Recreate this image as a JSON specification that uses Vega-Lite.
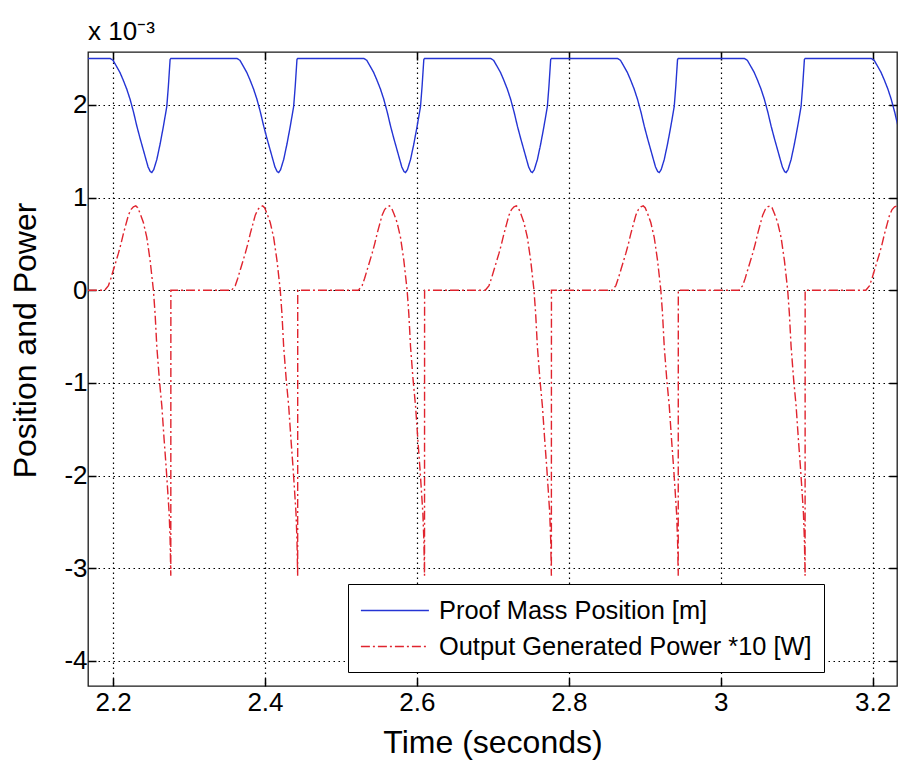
{
"$schema": "https://vega.github.io/schema/vega-lite/v6.json",
"width": 809, "height": 634,
"autosize": {"type": "none"},
"padding": {"left": 88, "top": 52, "right": 2, "bottom": 76},
"background": "white",
"title": {"text": "x 10⁻³", "anchor": "start", "frame": "group", "fontSize": 26, "fontWeight": "normal", "font": "Liberation Sans", "color": "#000", "offset": 6},
"config": {
  "view": {"stroke": "#1a1a1a", "strokeWidth": 1.3},
  "font": "Liberation Sans"
},
"data": {"values": [
{"t":2.167,"v":2.5,"s":"Proof Mass Position [m]"},
{"t":2.1961,"v":2.50,"s":"Proof Mass Position [m]"},{"t":2.2000,"v":2.48,"s":"Proof Mass Position [m]"},{"t":2.2049,"v":2.41,"s":"Proof Mass Position [m]"},{"t":2.2090,"v":2.35,"s":"Proof Mass Position [m]"},{"t":2.2132,"v":2.27,"s":"Proof Mass Position [m]"},{"t":2.2180,"v":2.17,"s":"Proof Mass Position [m]"},{"t":2.2224,"v":2.06,"s":"Proof Mass Position [m]"},{"t":2.2270,"v":1.92,"s":"Proof Mass Position [m]"},{"t":2.2313,"v":1.77,"s":"Proof Mass Position [m]"},{"t":2.2355,"v":1.64,"s":"Proof Mass Position [m]"},{"t":2.2396,"v":1.52,"s":"Proof Mass Position [m]"},{"t":2.2430,"v":1.42,"s":"Proof Mass Position [m]"},{"t":2.2461,"v":1.33,"s":"Proof Mass Position [m]"},{"t":2.2490,"v":1.28,"s":"Proof Mass Position [m]"},{"t":2.2510,"v":1.27,"s":"Proof Mass Position [m]"},{"t":2.2535,"v":1.30,"s":"Proof Mass Position [m]"},{"t":2.2576,"v":1.41,"s":"Proof Mass Position [m]"},{"t":2.2620,"v":1.58,"s":"Proof Mass Position [m]"},{"t":2.2663,"v":1.77,"s":"Proof Mass Position [m]"},{"t":2.2707,"v":1.98,"s":"Proof Mass Position [m]"},{"t":2.2728,"v":2.20,"s":"Proof Mass Position [m]"},{"t":2.2751,"v":2.49,"s":"Proof Mass Position [m]"},{"t":2.2761,"v":2.50,"s":"Proof Mass Position [m]"},
{"t":2.3631,"v":2.50,"s":"Proof Mass Position [m]"},{"t":2.3670,"v":2.48,"s":"Proof Mass Position [m]"},{"t":2.3719,"v":2.41,"s":"Proof Mass Position [m]"},{"t":2.3760,"v":2.35,"s":"Proof Mass Position [m]"},{"t":2.3802,"v":2.27,"s":"Proof Mass Position [m]"},{"t":2.3850,"v":2.17,"s":"Proof Mass Position [m]"},{"t":2.3894,"v":2.06,"s":"Proof Mass Position [m]"},{"t":2.3940,"v":1.92,"s":"Proof Mass Position [m]"},{"t":2.3983,"v":1.77,"s":"Proof Mass Position [m]"},{"t":2.4025,"v":1.64,"s":"Proof Mass Position [m]"},{"t":2.4066,"v":1.52,"s":"Proof Mass Position [m]"},{"t":2.4100,"v":1.42,"s":"Proof Mass Position [m]"},{"t":2.4131,"v":1.33,"s":"Proof Mass Position [m]"},{"t":2.4160,"v":1.28,"s":"Proof Mass Position [m]"},{"t":2.4180,"v":1.27,"s":"Proof Mass Position [m]"},{"t":2.4205,"v":1.30,"s":"Proof Mass Position [m]"},{"t":2.4246,"v":1.41,"s":"Proof Mass Position [m]"},{"t":2.4290,"v":1.58,"s":"Proof Mass Position [m]"},{"t":2.4333,"v":1.77,"s":"Proof Mass Position [m]"},{"t":2.4377,"v":1.98,"s":"Proof Mass Position [m]"},{"t":2.4398,"v":2.20,"s":"Proof Mass Position [m]"},{"t":2.4421,"v":2.49,"s":"Proof Mass Position [m]"},{"t":2.4431,"v":2.50,"s":"Proof Mass Position [m]"},
{"t":2.5301,"v":2.50,"s":"Proof Mass Position [m]"},{"t":2.5340,"v":2.48,"s":"Proof Mass Position [m]"},{"t":2.5389,"v":2.41,"s":"Proof Mass Position [m]"},{"t":2.5430,"v":2.35,"s":"Proof Mass Position [m]"},{"t":2.5472,"v":2.27,"s":"Proof Mass Position [m]"},{"t":2.5520,"v":2.17,"s":"Proof Mass Position [m]"},{"t":2.5564,"v":2.06,"s":"Proof Mass Position [m]"},{"t":2.5610,"v":1.92,"s":"Proof Mass Position [m]"},{"t":2.5653,"v":1.77,"s":"Proof Mass Position [m]"},{"t":2.5695,"v":1.64,"s":"Proof Mass Position [m]"},{"t":2.5736,"v":1.52,"s":"Proof Mass Position [m]"},{"t":2.5770,"v":1.42,"s":"Proof Mass Position [m]"},{"t":2.5801,"v":1.33,"s":"Proof Mass Position [m]"},{"t":2.5830,"v":1.28,"s":"Proof Mass Position [m]"},{"t":2.5850,"v":1.27,"s":"Proof Mass Position [m]"},{"t":2.5875,"v":1.30,"s":"Proof Mass Position [m]"},{"t":2.5916,"v":1.41,"s":"Proof Mass Position [m]"},{"t":2.5960,"v":1.58,"s":"Proof Mass Position [m]"},{"t":2.6003,"v":1.77,"s":"Proof Mass Position [m]"},{"t":2.6047,"v":1.98,"s":"Proof Mass Position [m]"},{"t":2.6068,"v":2.20,"s":"Proof Mass Position [m]"},{"t":2.6091,"v":2.49,"s":"Proof Mass Position [m]"},{"t":2.6101,"v":2.50,"s":"Proof Mass Position [m]"},
{"t":2.6971,"v":2.50,"s":"Proof Mass Position [m]"},{"t":2.7010,"v":2.48,"s":"Proof Mass Position [m]"},{"t":2.7059,"v":2.41,"s":"Proof Mass Position [m]"},{"t":2.7100,"v":2.35,"s":"Proof Mass Position [m]"},{"t":2.7142,"v":2.27,"s":"Proof Mass Position [m]"},{"t":2.7190,"v":2.17,"s":"Proof Mass Position [m]"},{"t":2.7234,"v":2.06,"s":"Proof Mass Position [m]"},{"t":2.7280,"v":1.92,"s":"Proof Mass Position [m]"},{"t":2.7323,"v":1.77,"s":"Proof Mass Position [m]"},{"t":2.7365,"v":1.64,"s":"Proof Mass Position [m]"},{"t":2.7406,"v":1.52,"s":"Proof Mass Position [m]"},{"t":2.7440,"v":1.42,"s":"Proof Mass Position [m]"},{"t":2.7471,"v":1.33,"s":"Proof Mass Position [m]"},{"t":2.7500,"v":1.28,"s":"Proof Mass Position [m]"},{"t":2.7520,"v":1.27,"s":"Proof Mass Position [m]"},{"t":2.7545,"v":1.30,"s":"Proof Mass Position [m]"},{"t":2.7586,"v":1.41,"s":"Proof Mass Position [m]"},{"t":2.7630,"v":1.58,"s":"Proof Mass Position [m]"},{"t":2.7673,"v":1.77,"s":"Proof Mass Position [m]"},{"t":2.7717,"v":1.98,"s":"Proof Mass Position [m]"},{"t":2.7738,"v":2.20,"s":"Proof Mass Position [m]"},{"t":2.7761,"v":2.49,"s":"Proof Mass Position [m]"},{"t":2.7771,"v":2.50,"s":"Proof Mass Position [m]"},
{"t":2.8641,"v":2.50,"s":"Proof Mass Position [m]"},{"t":2.8680,"v":2.48,"s":"Proof Mass Position [m]"},{"t":2.8729,"v":2.41,"s":"Proof Mass Position [m]"},{"t":2.8770,"v":2.35,"s":"Proof Mass Position [m]"},{"t":2.8812,"v":2.27,"s":"Proof Mass Position [m]"},{"t":2.8860,"v":2.17,"s":"Proof Mass Position [m]"},{"t":2.8904,"v":2.06,"s":"Proof Mass Position [m]"},{"t":2.8950,"v":1.92,"s":"Proof Mass Position [m]"},{"t":2.8993,"v":1.77,"s":"Proof Mass Position [m]"},{"t":2.9035,"v":1.64,"s":"Proof Mass Position [m]"},{"t":2.9076,"v":1.52,"s":"Proof Mass Position [m]"},{"t":2.9110,"v":1.42,"s":"Proof Mass Position [m]"},{"t":2.9141,"v":1.33,"s":"Proof Mass Position [m]"},{"t":2.9170,"v":1.28,"s":"Proof Mass Position [m]"},{"t":2.9190,"v":1.27,"s":"Proof Mass Position [m]"},{"t":2.9215,"v":1.30,"s":"Proof Mass Position [m]"},{"t":2.9256,"v":1.41,"s":"Proof Mass Position [m]"},{"t":2.9300,"v":1.58,"s":"Proof Mass Position [m]"},{"t":2.9343,"v":1.77,"s":"Proof Mass Position [m]"},{"t":2.9387,"v":1.98,"s":"Proof Mass Position [m]"},{"t":2.9408,"v":2.20,"s":"Proof Mass Position [m]"},{"t":2.9431,"v":2.49,"s":"Proof Mass Position [m]"},{"t":2.9441,"v":2.50,"s":"Proof Mass Position [m]"},
{"t":3.0311,"v":2.50,"s":"Proof Mass Position [m]"},{"t":3.0350,"v":2.48,"s":"Proof Mass Position [m]"},{"t":3.0399,"v":2.41,"s":"Proof Mass Position [m]"},{"t":3.0440,"v":2.35,"s":"Proof Mass Position [m]"},{"t":3.0482,"v":2.27,"s":"Proof Mass Position [m]"},{"t":3.0530,"v":2.17,"s":"Proof Mass Position [m]"},{"t":3.0574,"v":2.06,"s":"Proof Mass Position [m]"},{"t":3.0620,"v":1.92,"s":"Proof Mass Position [m]"},{"t":3.0663,"v":1.77,"s":"Proof Mass Position [m]"},{"t":3.0705,"v":1.64,"s":"Proof Mass Position [m]"},{"t":3.0746,"v":1.52,"s":"Proof Mass Position [m]"},{"t":3.0780,"v":1.42,"s":"Proof Mass Position [m]"},{"t":3.0811,"v":1.33,"s":"Proof Mass Position [m]"},{"t":3.0840,"v":1.28,"s":"Proof Mass Position [m]"},{"t":3.0860,"v":1.27,"s":"Proof Mass Position [m]"},{"t":3.0885,"v":1.30,"s":"Proof Mass Position [m]"},{"t":3.0926,"v":1.41,"s":"Proof Mass Position [m]"},{"t":3.0970,"v":1.58,"s":"Proof Mass Position [m]"},{"t":3.1013,"v":1.77,"s":"Proof Mass Position [m]"},{"t":3.1057,"v":1.98,"s":"Proof Mass Position [m]"},{"t":3.1078,"v":2.20,"s":"Proof Mass Position [m]"},{"t":3.1101,"v":2.49,"s":"Proof Mass Position [m]"},{"t":3.1111,"v":2.50,"s":"Proof Mass Position [m]"},
{"t":3.1981,"v":2.50,"s":"Proof Mass Position [m]"},{"t":3.2020,"v":2.48,"s":"Proof Mass Position [m]"},{"t":3.2069,"v":2.41,"s":"Proof Mass Position [m]"},{"t":3.2110,"v":2.35,"s":"Proof Mass Position [m]"},{"t":3.2152,"v":2.27,"s":"Proof Mass Position [m]"},{"t":3.2200,"v":2.17,"s":"Proof Mass Position [m]"},{"t":3.2244,"v":2.06,"s":"Proof Mass Position [m]"},{"t":3.2290,"v":1.92,"s":"Proof Mass Position [m]"},{"t":3.2333,"v":1.77,"s":"Proof Mass Position [m]"},
{"t":2.167,"v":0,"s":"Output Generated Power *10 [W]"},
{"t":2.1890,"v":0,"s":"Output Generated Power *10 [W]"},{"t":2.1939,"v":0.05,"s":"Output Generated Power *10 [W]"},{"t":2.1972,"v":0.13,"s":"Output Generated Power *10 [W]"},{"t":2.2005,"v":0.22,"s":"Output Generated Power *10 [W]"},{"t":2.2038,"v":0.31,"s":"Output Generated Power *10 [W]"},{"t":2.2071,"v":0.40,"s":"Output Generated Power *10 [W]"},{"t":2.2104,"v":0.50,"s":"Output Generated Power *10 [W]"},{"t":2.2136,"v":0.61,"s":"Output Generated Power *10 [W]"},{"t":2.2169,"v":0.71,"s":"Output Generated Power *10 [W]"},{"t":2.2202,"v":0.81,"s":"Output Generated Power *10 [W]"},{"t":2.2235,"v":0.87,"s":"Output Generated Power *10 [W]"},{"t":2.2268,"v":0.90,"s":"Output Generated Power *10 [W]"},{"t":2.2299,"v":0.91,"s":"Output Generated Power *10 [W]"},{"t":2.2325,"v":0.89,"s":"Output Generated Power *10 [W]"},{"t":2.2360,"v":0.82,"s":"Output Generated Power *10 [W]"},{"t":2.2399,"v":0.73,"s":"Output Generated Power *10 [W]"},{"t":2.2444,"v":0.57,"s":"Output Generated Power *10 [W]"},{"t":2.2488,"v":0.32,"s":"Output Generated Power *10 [W]"},{"t":2.2531,"v":0,"s":"Output Generated Power *10 [W]"},{"t":2.2553,"v":-0.25,"s":"Output Generated Power *10 [W]"},{"t":2.2576,"v":-0.61,"s":"Output Generated Power *10 [W]"},{"t":2.2610,"v":-0.97,"s":"Output Generated Power *10 [W]"},{"t":2.2642,"v":-1.25,"s":"Output Generated Power *10 [W]"},{"t":2.2672,"v":-1.61,"s":"Output Generated Power *10 [W]"},{"t":2.2698,"v":-1.90,"s":"Output Generated Power *10 [W]"},{"t":2.2715,"v":-2.11,"s":"Output Generated Power *10 [W]"},{"t":2.2738,"v":-2.40,"s":"Output Generated Power *10 [W]"},{"t":2.2751,"v":-2.69,"s":"Output Generated Power *10 [W]"},{"t":2.2760,"v":-3.08,"s":"Output Generated Power *10 [W]"},{"t":2.2761,"v":0,"s":"Output Generated Power *10 [W]"},
{"t":2.3560,"v":0,"s":"Output Generated Power *10 [W]"},{"t":2.3609,"v":0.05,"s":"Output Generated Power *10 [W]"},{"t":2.3642,"v":0.13,"s":"Output Generated Power *10 [W]"},{"t":2.3675,"v":0.22,"s":"Output Generated Power *10 [W]"},{"t":2.3708,"v":0.31,"s":"Output Generated Power *10 [W]"},{"t":2.3741,"v":0.40,"s":"Output Generated Power *10 [W]"},{"t":2.3774,"v":0.50,"s":"Output Generated Power *10 [W]"},{"t":2.3806,"v":0.61,"s":"Output Generated Power *10 [W]"},{"t":2.3839,"v":0.71,"s":"Output Generated Power *10 [W]"},{"t":2.3872,"v":0.81,"s":"Output Generated Power *10 [W]"},{"t":2.3905,"v":0.87,"s":"Output Generated Power *10 [W]"},{"t":2.3938,"v":0.90,"s":"Output Generated Power *10 [W]"},{"t":2.3969,"v":0.91,"s":"Output Generated Power *10 [W]"},{"t":2.3995,"v":0.89,"s":"Output Generated Power *10 [W]"},{"t":2.4030,"v":0.82,"s":"Output Generated Power *10 [W]"},{"t":2.4069,"v":0.73,"s":"Output Generated Power *10 [W]"},{"t":2.4114,"v":0.57,"s":"Output Generated Power *10 [W]"},{"t":2.4158,"v":0.32,"s":"Output Generated Power *10 [W]"},{"t":2.4201,"v":0,"s":"Output Generated Power *10 [W]"},{"t":2.4223,"v":-0.25,"s":"Output Generated Power *10 [W]"},{"t":2.4246,"v":-0.61,"s":"Output Generated Power *10 [W]"},{"t":2.4280,"v":-0.97,"s":"Output Generated Power *10 [W]"},{"t":2.4312,"v":-1.25,"s":"Output Generated Power *10 [W]"},{"t":2.4342,"v":-1.61,"s":"Output Generated Power *10 [W]"},{"t":2.4368,"v":-1.90,"s":"Output Generated Power *10 [W]"},{"t":2.4385,"v":-2.11,"s":"Output Generated Power *10 [W]"},{"t":2.4408,"v":-2.40,"s":"Output Generated Power *10 [W]"},{"t":2.4421,"v":-2.69,"s":"Output Generated Power *10 [W]"},{"t":2.4430,"v":-3.08,"s":"Output Generated Power *10 [W]"},{"t":2.4431,"v":0,"s":"Output Generated Power *10 [W]"},
{"t":2.5230,"v":0,"s":"Output Generated Power *10 [W]"},{"t":2.5279,"v":0.05,"s":"Output Generated Power *10 [W]"},{"t":2.5312,"v":0.13,"s":"Output Generated Power *10 [W]"},{"t":2.5345,"v":0.22,"s":"Output Generated Power *10 [W]"},{"t":2.5378,"v":0.31,"s":"Output Generated Power *10 [W]"},{"t":2.5411,"v":0.40,"s":"Output Generated Power *10 [W]"},{"t":2.5444,"v":0.50,"s":"Output Generated Power *10 [W]"},{"t":2.5476,"v":0.61,"s":"Output Generated Power *10 [W]"},{"t":2.5509,"v":0.71,"s":"Output Generated Power *10 [W]"},{"t":2.5542,"v":0.81,"s":"Output Generated Power *10 [W]"},{"t":2.5575,"v":0.87,"s":"Output Generated Power *10 [W]"},{"t":2.5608,"v":0.90,"s":"Output Generated Power *10 [W]"},{"t":2.5639,"v":0.91,"s":"Output Generated Power *10 [W]"},{"t":2.5665,"v":0.89,"s":"Output Generated Power *10 [W]"},{"t":2.5700,"v":0.82,"s":"Output Generated Power *10 [W]"},{"t":2.5739,"v":0.73,"s":"Output Generated Power *10 [W]"},{"t":2.5784,"v":0.57,"s":"Output Generated Power *10 [W]"},{"t":2.5828,"v":0.32,"s":"Output Generated Power *10 [W]"},{"t":2.5871,"v":0,"s":"Output Generated Power *10 [W]"},{"t":2.5893,"v":-0.25,"s":"Output Generated Power *10 [W]"},{"t":2.5916,"v":-0.61,"s":"Output Generated Power *10 [W]"},{"t":2.5950,"v":-0.97,"s":"Output Generated Power *10 [W]"},{"t":2.5982,"v":-1.25,"s":"Output Generated Power *10 [W]"},{"t":2.6012,"v":-1.61,"s":"Output Generated Power *10 [W]"},{"t":2.6038,"v":-1.90,"s":"Output Generated Power *10 [W]"},{"t":2.6055,"v":-2.11,"s":"Output Generated Power *10 [W]"},{"t":2.6078,"v":-2.40,"s":"Output Generated Power *10 [W]"},{"t":2.6091,"v":-2.69,"s":"Output Generated Power *10 [W]"},{"t":2.6100,"v":-3.08,"s":"Output Generated Power *10 [W]"},{"t":2.6101,"v":0,"s":"Output Generated Power *10 [W]"},
{"t":2.6900,"v":0,"s":"Output Generated Power *10 [W]"},{"t":2.6949,"v":0.05,"s":"Output Generated Power *10 [W]"},{"t":2.6982,"v":0.13,"s":"Output Generated Power *10 [W]"},{"t":2.7015,"v":0.22,"s":"Output Generated Power *10 [W]"},{"t":2.7048,"v":0.31,"s":"Output Generated Power *10 [W]"},{"t":2.7081,"v":0.40,"s":"Output Generated Power *10 [W]"},{"t":2.7114,"v":0.50,"s":"Output Generated Power *10 [W]"},{"t":2.7146,"v":0.61,"s":"Output Generated Power *10 [W]"},{"t":2.7179,"v":0.71,"s":"Output Generated Power *10 [W]"},{"t":2.7212,"v":0.81,"s":"Output Generated Power *10 [W]"},{"t":2.7245,"v":0.87,"s":"Output Generated Power *10 [W]"},{"t":2.7278,"v":0.90,"s":"Output Generated Power *10 [W]"},{"t":2.7309,"v":0.91,"s":"Output Generated Power *10 [W]"},{"t":2.7335,"v":0.89,"s":"Output Generated Power *10 [W]"},{"t":2.7370,"v":0.82,"s":"Output Generated Power *10 [W]"},{"t":2.7409,"v":0.73,"s":"Output Generated Power *10 [W]"},{"t":2.7454,"v":0.57,"s":"Output Generated Power *10 [W]"},{"t":2.7498,"v":0.32,"s":"Output Generated Power *10 [W]"},{"t":2.7541,"v":0,"s":"Output Generated Power *10 [W]"},{"t":2.7563,"v":-0.25,"s":"Output Generated Power *10 [W]"},{"t":2.7586,"v":-0.61,"s":"Output Generated Power *10 [W]"},{"t":2.7620,"v":-0.97,"s":"Output Generated Power *10 [W]"},{"t":2.7652,"v":-1.25,"s":"Output Generated Power *10 [W]"},{"t":2.7682,"v":-1.61,"s":"Output Generated Power *10 [W]"},{"t":2.7708,"v":-1.90,"s":"Output Generated Power *10 [W]"},{"t":2.7725,"v":-2.11,"s":"Output Generated Power *10 [W]"},{"t":2.7748,"v":-2.40,"s":"Output Generated Power *10 [W]"},{"t":2.7761,"v":-2.69,"s":"Output Generated Power *10 [W]"},{"t":2.7770,"v":-3.08,"s":"Output Generated Power *10 [W]"},{"t":2.7771,"v":0,"s":"Output Generated Power *10 [W]"},
{"t":2.8570,"v":0,"s":"Output Generated Power *10 [W]"},{"t":2.8619,"v":0.05,"s":"Output Generated Power *10 [W]"},{"t":2.8652,"v":0.13,"s":"Output Generated Power *10 [W]"},{"t":2.8685,"v":0.22,"s":"Output Generated Power *10 [W]"},{"t":2.8718,"v":0.31,"s":"Output Generated Power *10 [W]"},{"t":2.8751,"v":0.40,"s":"Output Generated Power *10 [W]"},{"t":2.8784,"v":0.50,"s":"Output Generated Power *10 [W]"},{"t":2.8816,"v":0.61,"s":"Output Generated Power *10 [W]"},{"t":2.8849,"v":0.71,"s":"Output Generated Power *10 [W]"},{"t":2.8882,"v":0.81,"s":"Output Generated Power *10 [W]"},{"t":2.8915,"v":0.87,"s":"Output Generated Power *10 [W]"},{"t":2.8948,"v":0.90,"s":"Output Generated Power *10 [W]"},{"t":2.8979,"v":0.91,"s":"Output Generated Power *10 [W]"},{"t":2.9005,"v":0.89,"s":"Output Generated Power *10 [W]"},{"t":2.9040,"v":0.82,"s":"Output Generated Power *10 [W]"},{"t":2.9079,"v":0.73,"s":"Output Generated Power *10 [W]"},{"t":2.9124,"v":0.57,"s":"Output Generated Power *10 [W]"},{"t":2.9168,"v":0.32,"s":"Output Generated Power *10 [W]"},{"t":2.9211,"v":0,"s":"Output Generated Power *10 [W]"},{"t":2.9233,"v":-0.25,"s":"Output Generated Power *10 [W]"},{"t":2.9256,"v":-0.61,"s":"Output Generated Power *10 [W]"},{"t":2.9290,"v":-0.97,"s":"Output Generated Power *10 [W]"},{"t":2.9322,"v":-1.25,"s":"Output Generated Power *10 [W]"},{"t":2.9352,"v":-1.61,"s":"Output Generated Power *10 [W]"},{"t":2.9378,"v":-1.90,"s":"Output Generated Power *10 [W]"},{"t":2.9395,"v":-2.11,"s":"Output Generated Power *10 [W]"},{"t":2.9418,"v":-2.40,"s":"Output Generated Power *10 [W]"},{"t":2.9431,"v":-2.69,"s":"Output Generated Power *10 [W]"},{"t":2.9440,"v":-3.08,"s":"Output Generated Power *10 [W]"},{"t":2.9441,"v":0,"s":"Output Generated Power *10 [W]"},
{"t":3.0240,"v":0,"s":"Output Generated Power *10 [W]"},{"t":3.0289,"v":0.05,"s":"Output Generated Power *10 [W]"},{"t":3.0322,"v":0.13,"s":"Output Generated Power *10 [W]"},{"t":3.0355,"v":0.22,"s":"Output Generated Power *10 [W]"},{"t":3.0388,"v":0.31,"s":"Output Generated Power *10 [W]"},{"t":3.0421,"v":0.40,"s":"Output Generated Power *10 [W]"},{"t":3.0454,"v":0.50,"s":"Output Generated Power *10 [W]"},{"t":3.0486,"v":0.61,"s":"Output Generated Power *10 [W]"},{"t":3.0519,"v":0.71,"s":"Output Generated Power *10 [W]"},{"t":3.0552,"v":0.81,"s":"Output Generated Power *10 [W]"},{"t":3.0585,"v":0.87,"s":"Output Generated Power *10 [W]"},{"t":3.0618,"v":0.90,"s":"Output Generated Power *10 [W]"},{"t":3.0649,"v":0.91,"s":"Output Generated Power *10 [W]"},{"t":3.0675,"v":0.89,"s":"Output Generated Power *10 [W]"},{"t":3.0710,"v":0.82,"s":"Output Generated Power *10 [W]"},{"t":3.0749,"v":0.73,"s":"Output Generated Power *10 [W]"},{"t":3.0794,"v":0.57,"s":"Output Generated Power *10 [W]"},{"t":3.0838,"v":0.32,"s":"Output Generated Power *10 [W]"},{"t":3.0881,"v":0,"s":"Output Generated Power *10 [W]"},{"t":3.0903,"v":-0.25,"s":"Output Generated Power *10 [W]"},{"t":3.0926,"v":-0.61,"s":"Output Generated Power *10 [W]"},{"t":3.0960,"v":-0.97,"s":"Output Generated Power *10 [W]"},{"t":3.0992,"v":-1.25,"s":"Output Generated Power *10 [W]"},{"t":3.1022,"v":-1.61,"s":"Output Generated Power *10 [W]"},{"t":3.1048,"v":-1.90,"s":"Output Generated Power *10 [W]"},{"t":3.1065,"v":-2.11,"s":"Output Generated Power *10 [W]"},{"t":3.1088,"v":-2.40,"s":"Output Generated Power *10 [W]"},{"t":3.1101,"v":-2.69,"s":"Output Generated Power *10 [W]"},{"t":3.1110,"v":-3.08,"s":"Output Generated Power *10 [W]"},{"t":3.1111,"v":0,"s":"Output Generated Power *10 [W]"},
{"t":3.1910,"v":0,"s":"Output Generated Power *10 [W]"},{"t":3.1959,"v":0.05,"s":"Output Generated Power *10 [W]"},{"t":3.1992,"v":0.13,"s":"Output Generated Power *10 [W]"},{"t":3.2025,"v":0.22,"s":"Output Generated Power *10 [W]"},{"t":3.2058,"v":0.31,"s":"Output Generated Power *10 [W]"},{"t":3.2091,"v":0.40,"s":"Output Generated Power *10 [W]"},{"t":3.2124,"v":0.50,"s":"Output Generated Power *10 [W]"},{"t":3.2156,"v":0.61,"s":"Output Generated Power *10 [W]"},{"t":3.2189,"v":0.71,"s":"Output Generated Power *10 [W]"},{"t":3.2222,"v":0.81,"s":"Output Generated Power *10 [W]"},{"t":3.2255,"v":0.87,"s":"Output Generated Power *10 [W]"},{"t":3.2288,"v":0.90,"s":"Output Generated Power *10 [W]"},{"t":3.2319,"v":0.91,"s":"Output Generated Power *10 [W]"},{"t":3.2345,"v":0.89,"s":"Output Generated Power *10 [W]"}
]},
"layer": [
{
 "mark": {"type": "line", "clip": true, "strokeWidth": 1.4},
 "encoding": {
  "x": {"field": "t", "type": "quantitative",
        "scale": {"domain": [2.167, 3.232], "nice": false, "zero": false},
        "axis": {"orient": "bottom", "values": [2.2, 2.4, 2.6, 2.8, 3, 3.2], "format": "~g", "title": "Time (seconds)",
                 "grid": true, "gridDash": [1.5, 3.5], "gridColor": "#000", "gridWidth": 1.2, "gridOpacity": 1,
                 "domain": false, "tickSize": -8, "tickColor": "#000", "tickWidth": 1.5,
                 "labelFontSize": 26, "labelColor": "#000", "labelFont": "Liberation Sans", "labelPadding": 32, "labelBaseline": "alphabetic",
                 "titleFontSize": 32, "titleFontWeight": "normal", "titleColor": "#000", "titleFont": "Liberation Sans", "titleBaseline": "alphabetic", "titleY": 66}},
  "y": {"field": "v", "type": "quantitative",
        "scale": {"domain": [-4.27, 2.57], "nice": false, "zero": false},
        "axis": {"orient": "left", "values": [-4, -3, -2, -1, 0, 1, 2],
                 "labelExpr": "datum.value < 0 ? '-' + format(-datum.value, '~g') : format(datum.value, '~g')",
                 "title": "Position and Power",
                 "grid": true, "gridDash": [1.5, 3.5], "gridColor": "#000", "gridWidth": 1.2, "gridOpacity": 1,
                 "domain": false, "tickSize": -8, "tickColor": "#000", "tickWidth": 1.5,
                 "labelFontSize": 26, "labelColor": "#000", "labelFont": "Liberation Sans", "labelPadding": 9,
                 "titleFontSize": 32, "titleFontWeight": "normal", "titleColor": "#000", "titleFont": "Liberation Sans",
                 "titleBaseline": "alphabetic", "titleX": -53, "titleY": 288, "titleAngle": 270, "titleAlign": "center"}},
  "color": {"field": "s", "type": "nominal",
            "scale": {"domain": ["Proof Mass Position [m]", "Output Generated Power *10 [W]"], "range": ["#2434d4", "#e0242e"]},
            "legend": {"orient": "none", "legendX": 260, "legendY": 532, "title": null,
                       "symbolType": "M-1,0H4", "symbolSize": 740, "symbolStrokeWidth": 1.4,
                       "labelFontSize": 25.4, "labelFont": "Liberation Sans", "labelColor": "#000", "labelOffset": 50, "labelLimit": 0,
                       "rowPadding": 8, "padding": 12, "fillColor": "#fff", "strokeColor": "#000"}},
  "strokeDash": {"field": "s", "type": "nominal",
            "scale": {"domain": ["Proof Mass Position [m]", "Output Generated Power *10 [W]"], "range": [[1, 0], [9, 3, 2, 3]]},
            "legend": {"orient": "none", "legendX": 260, "legendY": 532, "title": null,
                       "symbolType": "M-1,0H4", "symbolSize": 740, "symbolStrokeWidth": 1.4,
                       "labelFontSize": 25.4, "labelFont": "Liberation Sans", "labelColor": "#000", "labelOffset": 50, "labelLimit": 0,
                       "rowPadding": 8, "padding": 12, "fillColor": "#fff", "strokeColor": "#000"}}
 }
},
{
 "mark": {"type": "line", "opacity": 0},
 "encoding": {
  "x": {"field": "t", "type": "quantitative",
        "axis": {"orient": "top", "values": [2.2, 2.4, 2.6, 2.8, 3, 3.2], "labels": false, "title": null, "grid": false, "domain": false,
                 "tickSize": -8, "tickColor": "#000", "tickWidth": 1.5}},
  "y": {"field": "v", "type": "quantitative",
        "axis": {"orient": "right", "values": [-4, -3, -2, -1, 0, 1, 2], "labels": false, "title": null, "grid": false, "domain": false,
                 "tickSize": -8, "tickColor": "#000", "tickWidth": 1.5}}
 }
}
],
"resolve": {"axis": {"x": "independent", "y": "independent"}}
}
